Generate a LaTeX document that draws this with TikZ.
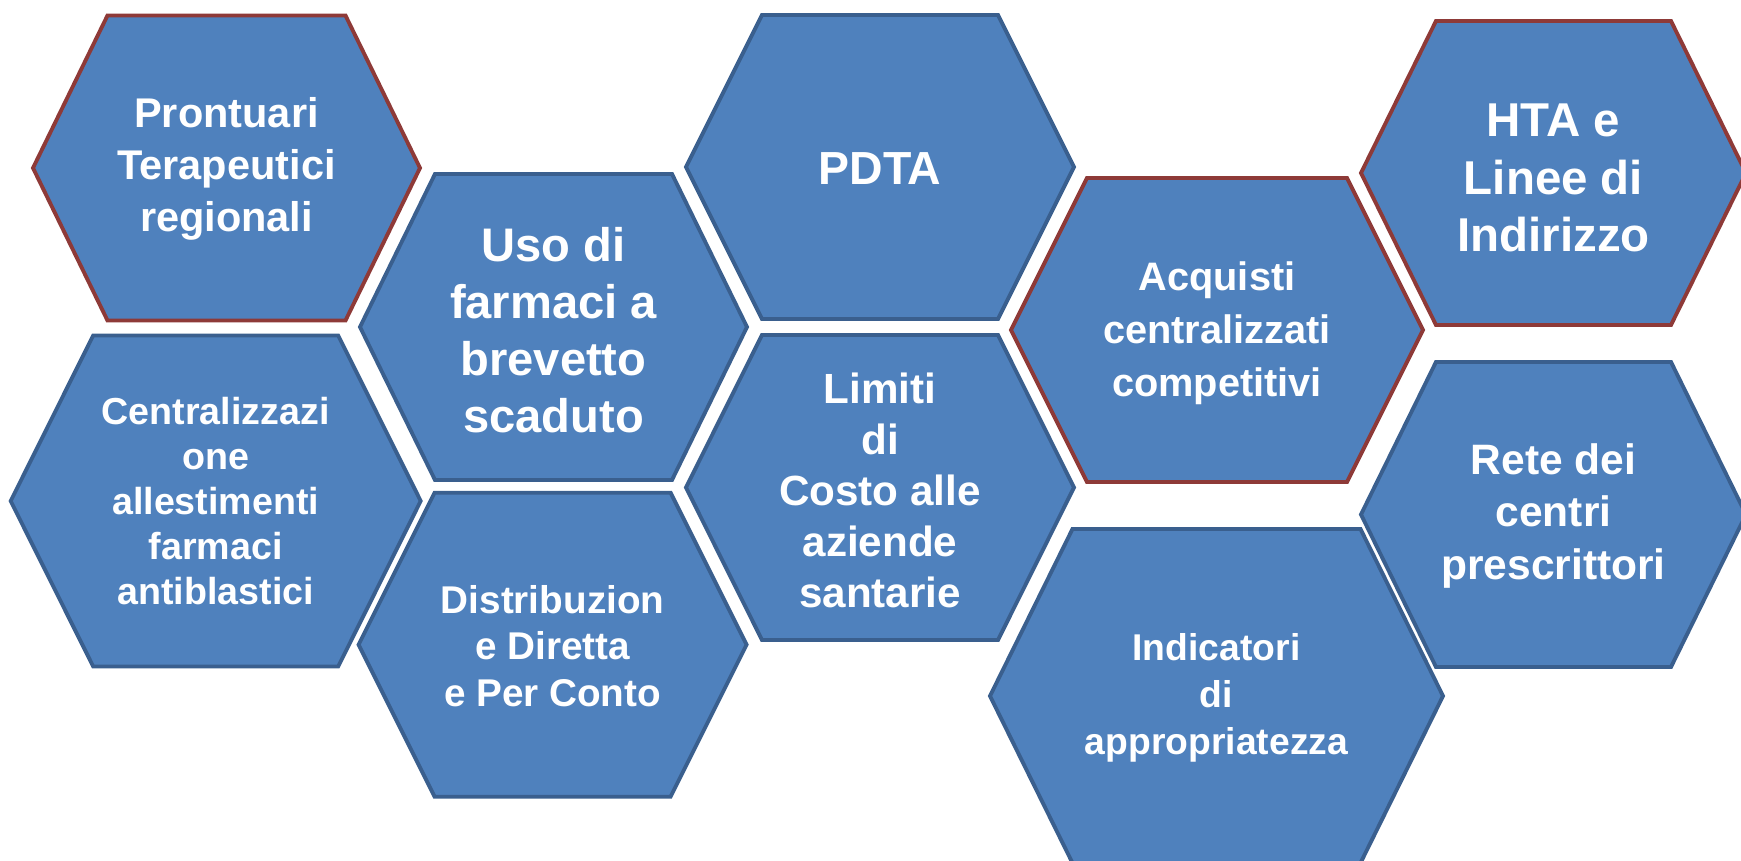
\documentclass[tikz,border=0pt]{standalone}
\usepackage{fontspec}
\setmainfont{Liberation Sans}
\usetikzlibrary{positioning}
\definecolor{cellfill}{HTML}{4F81BD}
\definecolor{edgeblue}{HTML}{3A5F8E}
\definecolor{edgered}{HTML}{8E3A38}
\tikzset{
  hexblue/.style={draw=edgeblue,fill=cellfill,line width=1.1pt},
  hexred/.style={draw=edgered,fill=cellfill,line width=1.1pt},
  celltext/.style={text=white,align=center,inner sep=0pt}
}

\begin{document}
\begin{tikzpicture}[x=0.01cm,y=-0.01cm]
\useasboundingbox (0,0) rectangle (1741,861);
\draw[hexred,shift={(226.5,168)}] (-193.5,0) -- (-119,-152.5) -- (119,-152.5) -- (193.5,0) -- (119,152.5) -- (-119,152.5) -- cycle;
\draw[hexblue,shift={(553.5,327)}] (-193.5,0) -- (-118.5,-153) -- (118.5,-153) -- (193.5,0) -- (118.5,153) -- (-118.5,153) -- cycle;
\draw[hexblue,shift={(215.7,501)}] (-205,0) -- (-122.5,-165.5) -- (122.5,-165.5) -- (205,0) -- (122.5,165.5) -- (-122.5,165.5) -- cycle;
\draw[hexblue,shift={(552.6,644.7)}] (-194,0) -- (-118,-152) -- (118,-152) -- (194,0) -- (118,152) -- (-118,152) -- cycle;
\draw[hexblue,shift={(880,167)}] (-194,0) -- (-118,-152) -- (118,-152) -- (194,0) -- (118,152) -- (-118,152) -- cycle;
\draw[hexblue,shift={(880,487.5)}] (-194,0) -- (-118,-152.5) -- (118,-152.5) -- (194,0) -- (118,152.5) -- (-118,152.5) -- cycle;
\draw[hexred,shift={(1217,330)}] (-206,0) -- (-130,-152) -- (130,-152) -- (206,0) -- (130,152) -- (-130,152) -- cycle;
\draw[hexred,shift={(1553.5,173)}] (-192.5,0) -- (-117.5,-152) -- (117.5,-152) -- (192.5,0) -- (117.5,152) -- (-117.5,152) -- cycle;
\draw[hexblue,shift={(1553.5,514.5)}] (-192.5,0) -- (-117.5,-152.5) -- (117.5,-152.5) -- (192.5,0) -- (117.5,152.5) -- (-117.5,152.5) -- cycle;
\draw[hexblue,shift={(1216.5,696)}] (-226.5,0) -- (-144,-167) -- (144,-167) -- (226.5,0) -- (144,167) -- (-144,167) -- cycle;
\node[celltext,font=\bfseries\fontsize{11.8}{14.8}\selectfont] (prontuari) at (226.5,169) {Prontuari\\Terapeutici\\regionali};
\node[celltext,font=\bfseries\fontsize{13.4}{16.2}\selectfont] (uso) at (553.5,330) {Uso di\\farmaci a\\brevetto\\scaduto};
\node[celltext,font=\bfseries\fontsize{10.7}{12.8}\selectfont] (central) at (215.7,501) {Centralizzazi\\one\\allestimenti\\farmaci\\antiblastici};
\node[celltext,font=\bfseries\fontsize{11}{13.3}\selectfont] (distrib) at (552.6,646) {Distribuzion\\e Diretta\\e Per Conto};
\node[celltext,font=\bfseries\fontsize{13.2}{16}\selectfont] (pdta) at (880,169) {PDTA};
\node[celltext,font=\bfseries\fontsize{12}{14.5}\selectfont] (limiti) at (880,490) {Limiti\\di\\Costo alle\\aziende\\santarie};
\node[celltext,font=\bfseries\fontsize{11.3}{15}\selectfont] (acquisti) at (1217,333) {Acquisti\\centralizzati\\competitivi};
\node[celltext,font=\bfseries\fontsize{13.5}{16.4}\selectfont] (hta) at (1553.5,178) {HTA e\\Linee di\\Indirizzo};
\node[celltext,font=\bfseries\fontsize{12.1}{14.8}\selectfont] (rete) at (1553.5,516) {Rete dei\\centri\\prescrittori};
\node[celltext,font=\bfseries\fontsize{10.6}{13.3}\selectfont] (indicatori) at (1216.5,698) {Indicatori\\di\\appropriatezza};
\end{tikzpicture}
\end{document}
